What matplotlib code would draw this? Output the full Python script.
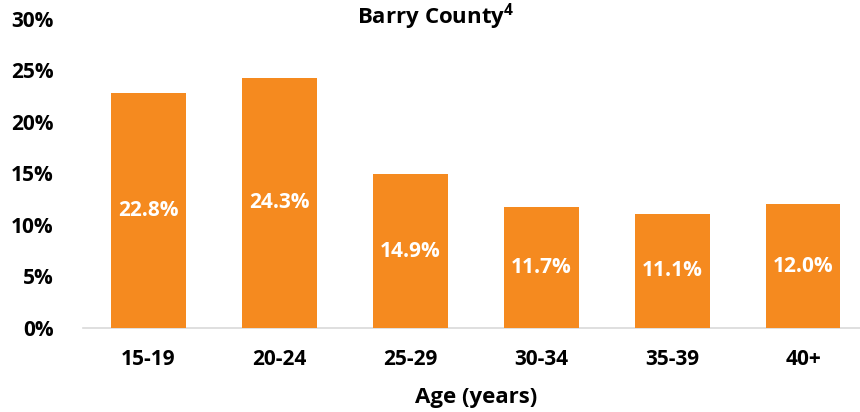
import matplotlib.pyplot as plt
from matplotlib.ticker import FuncFormatter

ages = ['15-19', '20-24', '25-29', '30-34', '35-39', '40+']
pct = [22.8, 24.3, 14.9, 11.7, 11.1, 12.0]

plt.rcParams['font.family'] = ['Open Sans', 'DejaVu Sans']
plt.rcParams['font.weight'] = 'bold'
plt.rcParams['mathtext.fontset'] = 'custom'
plt.rcParams['mathtext.bf'] = 'Open Sans:bold'
plt.rcParams['mathtext.rm'] = 'Open Sans:bold'

fig = plt.figure(figsize=(8.6, 4.12), dpi=100)
ax = fig.add_axes([0.0965, 0.204, 0.9135, 0.750])

x = range(len(ages))
bars = ax.bar(x, pct, width=0.57, color='#F58A1F', zorder=3)

for b, v in zip(bars, pct):
    ax.text(b.get_x() + b.get_width() / 2, v / 2, f'{v:.1f}%',
            ha='center', va='center', color='white', fontsize=15, fontweight='bold')

ax.set_xlim(-0.5, 5.5)
ax.set_ylim(0, 30)
ax.set_yticks(range(0, 31, 5))
ax.yaxis.set_major_formatter(FuncFormatter(lambda v, p: f'{v:.0f}%'))
ax.set_xticks(list(x))
ax.set_xticklabels(ages)
ax.tick_params(axis='y', length=0, pad=21, labelsize=15)
ax.tick_params(axis='x', length=0, pad=15, labelsize=15)

for s in ['top', 'right', 'left']:
    ax.spines[s].set_visible(False)
ax.spines['bottom'].set_color('#D9D9D9')
ax.spines['bottom'].set_linewidth(1.2)

fig.text(436 / 860, 1 - 1 / 412, 'Barry County$^{\\mathbf{4}}$', ha='center', va='top',
         fontsize=16, fontweight='bold')
fig.text(476 / 860, 1 - 397 / 412, 'Age (years)', ha='center', va='center',
         fontsize=16, fontweight='bold')

fig.savefig('out.png', dpi=100)
